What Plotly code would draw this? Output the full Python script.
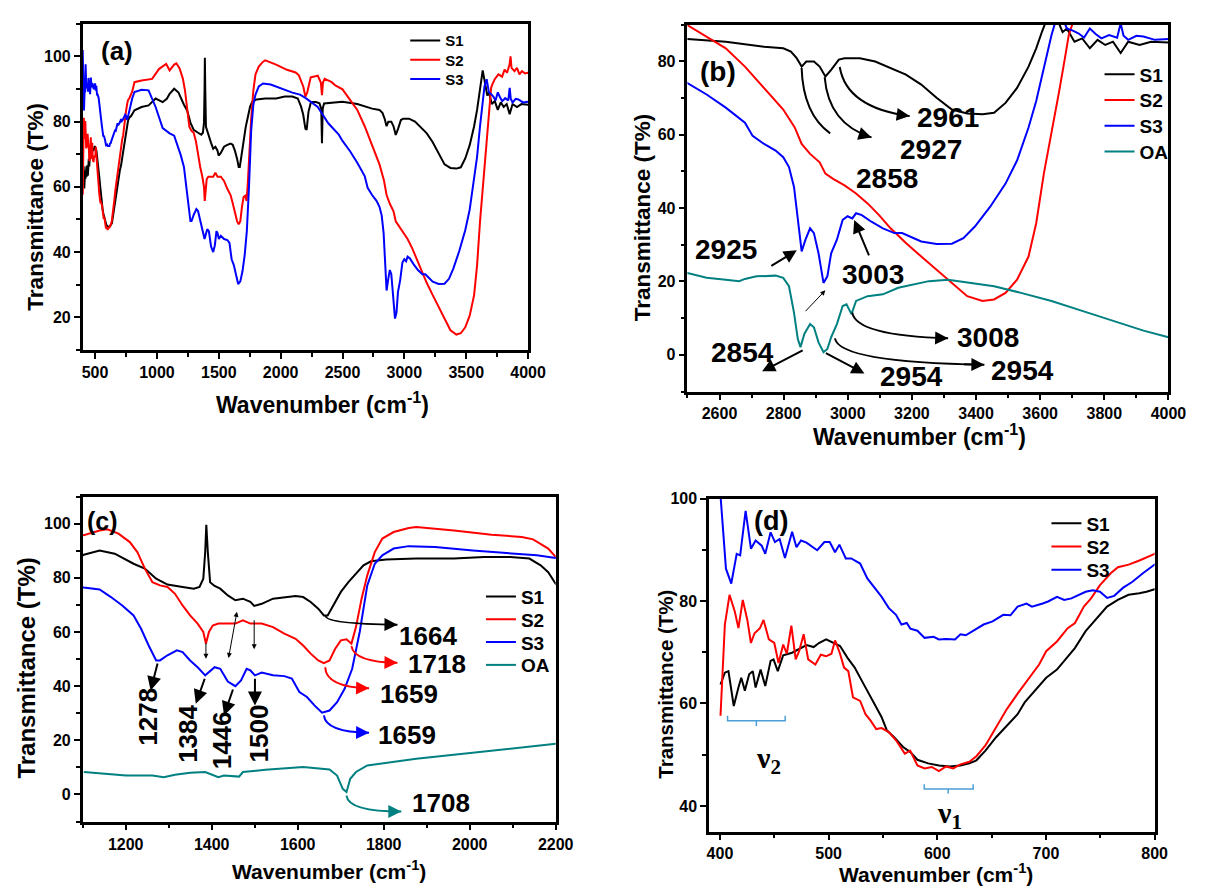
import plotly.graph_objects as go

# ---------------- FTIR spectra: wavenumber (cm^-1) / transmittance (%) ----------------
s1_wn = [400.5, 404.5, 407.8, 412.7, 417, 419.6, 422.9, 426.9, 430.2, 432.8, 437.4, 441.7, 446.6, 449.3,
         453.2, 458.2, 466.4, 473, 479.6, 486.2, 491.1, 497.7, 504.3, 510.5, 517.4, 524, 530.6, 535.6,
         542.2, 548.8, 553.7, 560.3, 568.5, 575.2, 581.7, 591.6, 601.5, 611.4, 621.3, 629.5, 636, 644.3,
         654.1, 664, 673.9, 680.4, 690.3, 700.2, 710.1, 718.3, 726.6, 736.5, 746.3, 756.2, 766.1, 776,
         785.9, 792.5, 800, 818.7, 875.6, 932.6, 989.5, 1046.5, 1080,
         1102.6, 1139.4, 1174.5, 1218.3, 1244.6, 1270.9, 1297.2, 1332.3, 1358.6, 1371.7, 1380.5, 1384.9,
         1387.5, 1391, 1396.3, 1406.8, 1419.9, 1437.5, 1455, 1472.5, 1490, 1498.8, 1516.3, 1542.6, 1568.9,
         1595.2, 1612.7, 1630.2, 1647.8, 1660.9, 1669.7, 1682.9, 1700.4, 1717.9, 1735.5, 1753, 1770.5,
         1788, 1805.6, 1875.7, 1963.4, 2033.5, 2094.8, 2138.7, 2165, 2182.6, 2200, 2210, 2225, 2245,
         2285, 2314, 2328, 2334, 2340, 2351, 2442,
         2500, 2619.5, 2739, 2798.8, 2822.7, 2840.6, 2856.2, 2870.5, 2894.4, 2912.3, 2930.3, 2948.2,
         2972.1, 2990, 3037.8, 3085.6, 3133.4, 3181.3, 3229.1, 3276.9, 3324.7, 3372.5, 3420.3, 3456.2,
         3492, 3527.9, 3563.7, 3587.6, 3605.6, 3617.5, 3633, 3653, 3670, 3683.2, 3707, 3731, 3755, 3779,
         3803, 3827, 3851, 3874.5, 3910, 3946, 4000]
s1_t = [63.7, 66, 66.3, 59.5, 63.1, 65, 62.5, 65.7, 66.3, 63.1, 66.6, 63.4, 68.3, 68.6,
        66.3, 69.4, 69.9, 70.7, 71.4, 71, 71.8, 72.5, 71.8, 71.2, 68.9, 67, 64.4, 62.5,
        59.9, 57.3, 54.7, 53.4, 51.5, 50.5, 49, 48.3, 47.9, 47.7, 47.9, 48.3, 48.9, 50.8,
        53.4, 55.6, 57.9, 60.2, 62.5, 65, 66.6, 68.6, 70.8, 74.1, 76.6, 78.9, 80.2, 81.2,
        81.5, 81.8, 82.3, 83.5, 84.5, 85, 87.1, 86, 87,
        88.5, 90.1, 88.9, 85.2, 83.4, 79.7, 77.5, 76.6, 76, 76.6, 79.7, 89.5,
        99.6, 89.5, 78.4, 77, 76, 73.5, 71.7, 72.3, 71.1, 69.6, 70.4, 72.3, 72.9,
        73.3, 72.9, 71.1, 68.6, 66.1, 66.1, 69.8, 74.8, 78.4, 81.5, 84.6, 86.1,
        86.5, 86.8, 87.1, 87.1, 87.7, 87.7, 87.1, 84.6, 82.1, 77.8, 77.5, 83, 86,
        86, 85.6, 84, 73.4, 84, 85.6, 86,
        86.1, 85.4, 84, 83.6, 82.7, 80.9, 78.6, 80, 80, 78.6, 75.9, 77.7,
        80.5, 80.9, 80.9, 80, 78.2, 76.4, 73.7, 70.1, 66.9, 65.8, 65.6, 66,
        68.7, 72.8, 78.6, 83.6, 88.1, 90.8, 95.7, 91.6, 88, 89, 85.4, 86.3, 83.6, 85.9,
        84.5, 85.4, 82.3, 85.4, 84.5, 85.4, 85.2]

s2_wn = [400.5, 404.5, 408.8, 413.7, 417, 421, 425.2, 428.5, 431.8, 436.8, 440.1, 445, 450, 453.9,
         458.2, 461.5, 465.7, 469.7, 473, 477, 481.2, 487.8, 492.8, 497.7, 502.6, 505.9, 510.2, 514.2,
         518.1, 522.4, 529, 533.9, 538.8, 543.8, 548.8, 555.4, 562, 570.1, 575, 581.7, 588.3, 594.9,
         601.5, 608.1, 614.6, 621.3, 629.5, 636, 644.3, 654.1, 664, 673.9, 683.8, 693.7, 700.2, 710.1,
         720, 726.7, 734.9, 741.5, 749.7, 759.6, 766.2, 776.1, 786, 794.2, 800,
         818.7, 875.6, 961, 1018, 1075,
         1102.6, 1139.4, 1157, 1183.3, 1209.6, 1227.1, 1244.6, 1262.2, 1279.7, 1297.2, 1314.7, 1332.3,
         1349.8, 1367.3, 1380.5, 1386.6, 1393.6, 1402.4, 1415.5, 1437.5, 1455, 1472.5, 1490, 1516.3,
         1542.6, 1568.9, 1595.2, 1612.7, 1630.2, 1647.8, 1660.9, 1674, 1687.2, 1700.4, 1713.5, 1725,
         1735.5, 1748.6, 1761.8, 1779.3, 1796.8, 1823.1, 1858.2, 1875.7, 1963.4, 2051, 2121.1, 2147.4,
         2165, 2182.6, 2200, 2215, 2243, 2300, 2325, 2334, 2342, 2356, 2413, 2442,
         2500, 2559.8, 2619.5, 2679.3, 2739, 2798.8, 2834.6, 2856.2, 2882.5, 2912.3, 2930.3, 2954.2,
         2990, 3025.9, 3061.8, 3097.6, 3133.5, 3181.3, 3229.1, 3276.9, 3324.7, 3372.5, 3420.3, 3456.2,
         3492, 3527.9, 3563.7, 3587.6, 3611.5, 3635.4, 3659.3, 3677.2, 3689.2, 3701.1, 3712, 3730,
         3760, 3790, 3810, 3830, 3850, 3858, 3866, 3890, 3910, 3930, 3950, 3975, 4000]
s2_t = [57.6, 75.4, 81.2, 77.9, 74.7, 80.2, 76.3, 71.8, 73.7, 74.7, 76.3, 72.5, 71.8, 67.9,
        71.5, 69.7, 75.2, 68.6, 70.3, 73.5, 68.6, 67.6, 69.5, 69.2, 69.7, 72.3, 69.9, 67,
        66.3, 61.2, 60.5, 57.9, 56.6, 55, 55.2, 54.4, 52.8, 50.2, 50.8, 47.9, 47.3, 47.6,
        46.8, 47.7, 47.3, 48.1, 48.6, 49.7, 51.8, 55.4, 58.9, 61.9, 64.7, 67.6, 70.2, 72.1,
        74.7, 75.7, 78.9, 80.5, 83.1, 85.4, 86.6, 87.1, 87.9, 88.6, 89.2,
        92.1, 92.6, 93.1, 96.2, 97.7,
        95.7, 97.5, 97.9, 96.3, 93.2, 89.5, 83.4, 78.4, 77.2, 76.6, 74.1, 69.8,
        66.1, 63.1, 60, 55.7, 60, 62.4, 63.1, 63.1, 63.1, 64.3, 63.1, 63.1,
        61.8, 59.4, 57.5, 55, 52, 49.5, 48.5, 49.5, 53.8, 56.9, 57.3, 55.7,
        61.8, 72.3, 80.9, 89.5, 94.5, 96.9, 98.4, 98.8, 97.5, 95.9, 95.1, 94.2,
        92.6, 90.8, 87.7, 89, 93.6, 94.1, 92, 88.1, 92, 93.1, 92.1, 91.1,
        89.9, 86.8, 83.6, 78.6, 72.8, 66.9, 62, 57.5, 54.8, 52.5, 49.4, 48,
        46.2, 44, 41.3, 38.1, 34.5, 30.5, 26.8, 23.2, 19.6, 16, 14.7, 15.1,
        16.9, 20.5, 26.8, 35.9, 49.4, 60.2, 71.9, 80.9, 87.2, 90.4, 91.5, 93,
        94.5, 93.8, 96, 95, 97.5, 100, 96.5, 95.5, 96.5, 94.5, 95.5, 94.8, 95]

s3_wn = [400, 405.5, 410.4, 415.4, 418.6, 423.6, 428.5, 432.8, 438.4, 441.7, 446.6, 450.6, 454.9, 459.8,
         466.4, 470.4, 474.6, 479.6, 489.5, 496.1, 501, 505.9, 509.9, 515.8, 520.8, 529, 535.6, 542.2,
         548.8, 555.4, 562, 567, 571.9, 575.2, 581.7, 588.3, 596.6, 601.5, 608.1, 616.3, 621.3, 626.2,
         632.7, 642.6, 650.9, 660.7, 667.3, 673.9, 682.1, 687.1, 697, 701.9, 710.2, 716.8, 723.4, 730,
         736.5, 743.1, 749.7, 756.3, 762.8, 771.1, 779.3, 789.2, 800,
         818.7, 875.6, 932.6, 989.5, 1046.5,
         1102.6, 1139.4, 1165.7, 1192, 1218.3, 1235.8, 1253.4, 1270.9, 1279.7, 1297.2, 1319.1, 1332.3,
         1349.8, 1367.3, 1384.9, 1393.6, 1406.8, 1419.9, 1437.5, 1455, 1468.2, 1481.3, 1490, 1500.6,
         1516.3, 1542.6, 1568.9, 1586.4, 1603.9, 1621.5, 1639, 1656.6, 1674, 1691.6, 1709.1, 1726.7,
         1744.2, 1761.8, 1779.3, 1796.8, 1823.1, 1858.2, 1919.5, 2007.2, 2094.8, 2156.2, 2200,
         2300, 2385, 2470,
         2500, 2559.8, 2619.5, 2679.3, 2703.2, 2739, 2774.9, 2798.8, 2816.7, 2832.3, 2844.2, 2856.2,
         2868.1, 2882.5, 2894.4, 2908.8, 2924.3, 2936.3, 2948.2, 2966.1, 2984.1, 2999.6, 3013.9, 3025.9,
         3043.8, 3073.7, 3109.5, 3145.4, 3169.3, 3193.2, 3229.1, 3276.9, 3324.7, 3360.6, 3396.4, 3444.2,
         3492, 3527.9, 3563.7, 3587.6, 3611.5, 3635.4, 3647.4, 3665, 3683.2, 3700, 3719, 3737, 3755,
         3773, 3791, 3815, 3840, 3851, 3860, 3874.5, 3900, 3922, 3958, 4000]
s3_t = [102, 86.3, 83.4, 89.2, 88.9, 97.6, 90.2, 91.8, 90.8, 89.2, 93.4, 91.5, 92.1, 88.4,
        93.5, 90.5, 91.8, 91.4, 89.9, 91.5, 91.5, 89.5, 91, 88.3, 88.3, 87.3, 84.4, 82.5,
        80.8, 78.6, 77.3, 75.4, 75.7, 74.6, 74.2, 72.8, 73, 72.5, 72.6, 72.5, 73.5, 73.3,
        74.2, 75.4, 76, 77.3, 77.2, 78.9, 79.5, 78.9, 79.5, 79.9, 80.8, 80.2, 80.5, 81.2,
        81.8, 82.1, 81.8, 80.6, 81, 82.6, 83.7, 85.4, 87.1,
        89.1, 89.8, 89.6, 84.5, 78,
        76.4, 75.7, 72.9, 69.8, 66.1, 61.2, 55, 49.5, 49.5, 51.4, 53.2, 52.6,
        49.5, 47, 44, 45.2, 47, 46.4, 41.7, 40, 42.1, 46.4, 45.8, 44,
        45, 44, 43.7, 42.8, 37.8, 36, 32.9, 30.2, 31, 34.1, 39, 46.4,
        60, 77.2, 85.2, 88.3, 90.8, 91.7, 91.4, 90.1, 88.9, 88.3, 87.3,
        84.5, 79.5, 76,
        74.1, 71, 67.4, 63.3, 59.7, 57.5, 55.7, 53.9, 51.2, 45.8, 36.8, 28.2,
        31.4, 34.5, 33.2, 27.7, 19.6, 21.4, 27.7, 31.4, 36.8, 37.8, 37.2, 38.6,
        38.1, 36.3, 34.5, 33.2, 33.2, 32.3, 30.9, 30.2, 30.3, 31.8, 35, 40.4,
        46.7, 53, 62, 69.2, 78.6, 87.2, 90.8, 93, 89, 88.5, 87.7, 86.5, 89,
        87.5, 86.3, 87.2, 86.5, 90.4, 87, 85.9, 87, 86.8, 85.9, 86.1]

oa_wn = [1102.6, 1157, 1200.8, 1262.2, 1288.4, 1314.7, 1349.8, 1384.9, 1398, 1415.5, 1428.7, 1463.7,
         1472.5, 1525.1, 1612.7, 1674, 1691.6, 1704.8, 1713.5, 1722.2, 1735.5, 1761.8, 1875.7, 2051, 2200,
         2500, 2559.8, 2619.5, 2661.3, 2679.3, 2715.2, 2774.9, 2798.8, 2816.7, 2832.3, 2844.2, 2852.6,
         2864.5, 2882.5, 2894.4, 2908.8, 2924.3, 2936.3, 2948.2, 2966.1, 2984.1, 2996, 3011.6, 3025.9,
         3061.8, 3109.5, 3157.4, 3205.2, 3253, 3312.8, 3372.5, 3456.2, 3540.2, 3635.4, 3731, 3826.7,
         3922.3, 4000]
oa_t = [8.3, 7.6, 7, 7, 6.4, 7.3, 8, 8.3, 7.6, 6.4, 7, 6.6,
        8.3, 9.1, 10.1, 9.2, 7, 2.1, 0.9, 5.8, 8.3, 10.7, 13.2, 16.3, 18.7,
        22.3, 21, 20.5, 20.1, 20.7, 21.4, 21.6, 21, 18.7, 11.5, 4.3, 2.1,
        5.7, 8.4, 7.5, 3.4, 0.7, 1.6, 4.8, 8.4, 13.3, 13.8, 11.1, 14.7,
        16, 16.5, 18.3, 19.2, 20.1, 20.5, 19.8, 18.7, 16.9, 14.7, 12, 9.3,
        6.6, 4.8]

sample_names = ["S1", "S2", "S3", "OA"]

# ---------------- styling ----------------
SANS = "Liberation Sans, Arial, sans-serif"
SERIF = "Liberation Serif, Times New Roman, serif"
W, H = 1210, 888
COLORS = {"S1": "#000000", "S2": "#ff0000", "S3": "#0000ff", "OA": "#008080"}
DATA = {"S1": (s1_wn, s1_t), "S2": (s2_wn, s2_t), "S3": (s3_wn, s3_t), "OA": (oa_wn, oa_t)}

# each panel: axes, legend placement (box left px, first row centre px, row step px, font size)
PANELS = {
    "a": dict(xa="x", ya="y", names=["S1", "S2", "S3"], leg=(410, 33, 19.5, 15)),
    "b": dict(xa="x2", ya="y2", names=["S1", "S2", "S3", "OA"], leg=(1116, 67, 26, 19)),
    "c": dict(xa="x3", ya="y3", names=["S1", "S2", "S3", "OA"], leg=(487, 594, 23, 19)),
    "d": dict(xa="x4", ya="y4", names=["S1", "S2", "S3"], leg=(1062, 520, 23.5, 19)),
}

fig = go.Figure()
legends = {}
count = 0
for key, p in PANELS.items():
    left, top, step, fsize = p["leg"]
    for i, n in enumerate(p["names"]):
        count += 1
        lid = "legend" if count == 1 else f"legend{count}"
        legends[lid] = dict(x=left / W, y=1 - (top + i * step) / H, xanchor="left", yanchor="middle",
                            bgcolor="rgba(0,0,0,0)", borderwidth=0,
                            font=dict(family=SANS, size=fsize, color="black", weight="bold"))
        wn, t = DATA[n]
        fig.add_trace(go.Scatter(
            x=wn, y=t, mode="lines", name=n, showlegend=True,
            line=dict(color=COLORS[n], width=2),
            xaxis=p["xa"], yaxis=p["ya"], legend=lid,
        ))


def axis(rng, dtick, minor, domain, anchor):
    return dict(
        range=rng, domain=domain, anchor=anchor, tick0=0, dtick=dtick,
        showline=True, linecolor="black", linewidth=2.5, mirror=True,
        ticks="outside", ticklen=6, tickwidth=2, tickcolor="black",
        minor=dict(tick0=0, dtick=minor, ticks="outside", ticklen=4, tickwidth=2, tickcolor="black"),
        showgrid=False, zeroline=False,
        tickfont=dict(family=SANS, size=16, color="black", weight="bold"),
    )


fig.update_layout(
    width=W, height=H, margin=dict(l=0, r=0, t=0, b=0), showlegend=True,
    paper_bgcolor="white", plot_bgcolor="white",
    xaxis=axis([400, 4000], 500, 250, [0.0678, 0.4421], "y"),
    yaxis=axis([10, 110], 20, 10, [0.6115, 0.9820], "x"),
    xaxis2=axis([2500, 4000], 200, 100, [0.5760, 0.9802], "y2"),
    yaxis2=axis([-10, 90], 20, 10, [0.5642, 0.9809], "x2"),
    xaxis3=axis([1100, 2200], 200, 100, [0.0678, 0.4653], "y3"),
    yaxis3=axis([-10, 110], 20, 10, [0.0755, 0.4448], "x3"),
    xaxis4=axis([390, 800], 100, 50, [0.5942, 0.9686], "y4"),
    yaxis4=axis([35, 100], 20, 10, [0.0642, 0.4426], "x4"),
    **legends,
)

annotations = []
shapes = []

# axis titles: (centre x px, centre y px, text, font size, angle)
TITLES = [
    (34, 200, "Transmittance (T%)", 22.5, -90),
    (326, 399, "Wavenumber (cm<sup>-1</sup>)", 23, 0),
    (651, 211, "Transmittance (T%)", 22.5, -90),
    (933, 431, "Wavenumber (cm<sup>-1</sup>)", 23, 0),
    (24, 666, "Transmittance (T%)", 24, -90),
    (333, 870, "Wavenumber (cm<sup>-1</sup>)", 21, 0),
    (675, 682, "Transmittance (T%)", 20.5, -90),
    (950, 873, "Wavenumber (cm<sup>-1</sup>)", 21, 0),
]
for x, y, text, size, ang in TITLES:
    annotations.append(dict(xref="paper", yref="paper", x=x / W, y=1 - y / H, text=text, showarrow=False,
                            textangle=ang, xanchor="center", yanchor="middle",
                            font=dict(family=SANS, size=size, color="black", weight="bold")))


def text_at(p, x, y, text, size, angle=0, family=SANS):
    ax = PANELS[p]
    annotations.append(dict(xref=ax["xa"], yref=ax["ya"], x=x, y=y, text=text, showarrow=False,
                            textangle=angle, xanchor="center", yanchor="middle",
                            font=dict(family=family, size=size, color="black", weight="bold")))


def arrow(p, tail, head, color="black", width=2, size=1.3, both=False):
    ax = PANELS[p]
    annotations.append(dict(xref=ax["xa"], yref=ax["ya"], axref=ax["xa"], ayref=ax["ya"],
                            x=head[0], y=head[1], ax=tail[0], ay=tail[1], text="",
                            showarrow=True, arrowhead=2, arrowsize=size, arrowwidth=width,
                            arrowcolor=color, standoff=0, startstandoff=0,
                            arrowside="end+start" if both else "end", startarrowhead=2,
                            startarrowsize=size))


def curved_arrow(p, start, ctrl, end, color="black", width=2):
    ax = PANELS[p]
    shapes.append(dict(type="path", xref=ax["xa"], yref=ax["ya"],
                       path=f"M {start[0]},{start[1]} Q {ctrl[0]},{ctrl[1]} {end[0]},{end[1]}",
                       line=dict(color=color, width=width)))
    tail = (end[0] - 0.15 * (end[0] - ctrl[0]), end[1] - 0.15 * (end[1] - ctrl[1]))
    arrow(p, tail, end, color=color, width=width, size=1.3)


# panel letters
text_at("a", 678, 101.8, "(a)", 26)
text_at("b", 2596, 77.3, "(b)", 28)
text_at("c", 1146, 100.9, "(c)", 25)
text_at("d", 447, 95.7, "(d)", 27)

# ---- panel (b): C-H stretching region ----
curved_arrow("b", (2975, 78.5), (2996, 67.4), (3193, 65.1))
curved_arrow("b", (2928, 75.7), (2940, 62.9), (3074, 59.3))
curved_arrow("b", (2856, 78.2), (2861, 65.6), (2945, 60.4))
curved_arrow("b", (3014, 11.5), (3026, 5.2), (3313, 4.5))
curved_arrow("b", (2960, 4.5), (2972, -2.0), (3426, -2.7))
arrow("b", (2757, 24.0), (2841, 28.5))
arrow("b", (3068, 26.7), (3020, 36.8))
arrow("b", (2864, 11.5), (2930, 17.6), width=1, size=1)
arrow("b", (2864, 1.4), (2733, -4.5))
arrow("b", (2927, 0.7), (3052, -5.1))
for x, y, t in [(3313, 64.7, "2961"), (3259, 56.1, "2927"), (3121, 48.0, "2858"),
                (2619, 28.6, "2925"), (3080, 21.9, "3003"), (3438, 4.8, "3008"),
                (2673, 0.7, "2854"), (3199, -6.0, "2954"), (3546, -4.2, "2954")]:
    text_at("b", x, y, t, 28)

# ---- panel (c): fingerprint region ----
curved_arrow("c", (1665, 65.9), (1667, 63.0), (1832, 62.7), color=COLORS["S1"])
curved_arrow("c", (1725, 54.8), (1731, 48.9), (1832, 48.6), color=COLORS["S2"])
curved_arrow("c", (1664, 47.0), (1665, 39.7), (1766, 39.2), color=COLORS["S2"])
curved_arrow("c", (1661, 29.2), (1665, 23.0), (1766, 22.8), color=COLORS["S3"])
curved_arrow("c", (1713.5, -0.4), (1718, -6.3), (1841, -6.3), color=COLORS["OA"])
arrow("c", (1275, 48.9), (1258, 38.4), size=1.4)
arrow("c", (1385, 43.3), (1363, 33.5), size=1.4)
arrow("c", (1450.6, 39.3), (1428.7, 29.2), size=1.4)
arrow("c", (1500.6, 43.3), (1500.6, 32.9), size=1.4)
arrow("c", (1386.6, 56.5), (1386.6, 50.1), width=1, size=1)
arrow("c", (1459.3, 68.0), (1439.2, 50.4), width=1, size=1, both=True)
arrow("c", (1498.8, 64.9), (1498.8, 53.6), width=1, size=1)
for x, y, t in [(1902, 58.5, "1664"), (1924, 48.0, "1718"), (1858, 37.0, "1659"),
                (1854, 21.8, "1659"), (1933, -3.2, "1708")]:
    text_at("c", x, y, t, 26)
for x, y, t in [(1253, 28.9, "1278"), (1345, 22.4, "1384"), (1424, 20.0, "1446"), (1509, 22.4, "1500")]:
    text_at("c", x, y, t, 26, angle=-90)

# ---- panel (d): Fe-O bands ----
BRACKET = "#4a9fd8"
for x0, x1, xm, ytop, ybar, ytick in [(407, 460, 433.5, 57.6, 56.6, 55.6), (588, 633, 610, 44.2, 43.3, 42.4)]:
    shapes.append(dict(type="path", xref="x4", yref="y4",
                       path=f"M {x0},{ytop} L {x0},{ybar} L {x1},{ybar} L {x1},{ytop} M {xm},{ybar} L {xm},{ytick}",
                       line=dict(color=BRACKET, width=1.5)))
text_at("d", 445, 48.9, "ν<sub>2</sub>", 30, family=SERIF)
text_at("d", 611, 38.3, "ν<sub>1</sub>", 30, family=SERIF)

fig.update_layout(annotations=annotations, shapes=shapes)
fig.write_html("out.html")
